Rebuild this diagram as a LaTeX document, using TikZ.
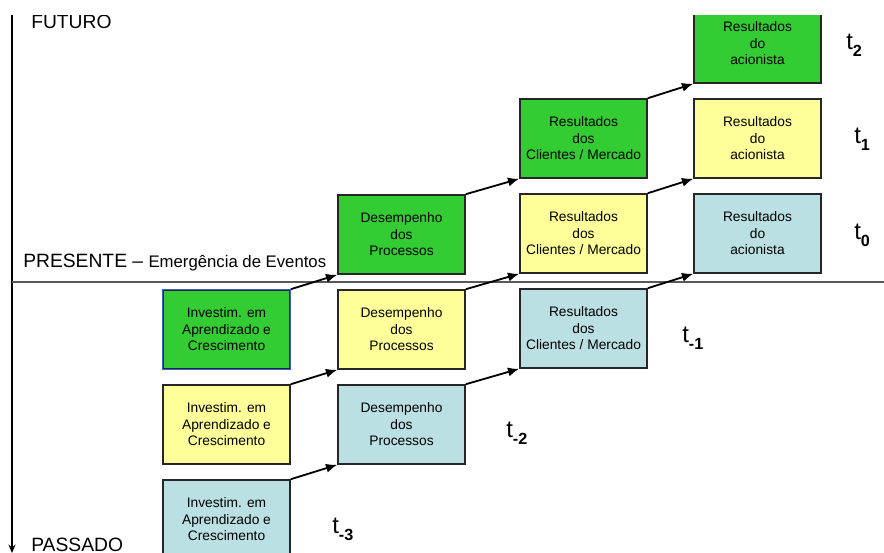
\documentclass[tikz,border=0pt]{standalone}
\usepackage{fontspec}
\setmainfont{Liberation Sans}
\usetikzlibrary{arrows.meta}
\definecolor{verde}{RGB}{51,204,51}
\definecolor{amarelo}{RGB}{255,255,153}
\definecolor{azul}{RGB}{187,224,227}
\definecolor{contorno}{RGB}{60,90,220}
\tikzset{
  caixa/.style={draw=black!85, line width=1.1pt, minimum width=3.175cm, minimum height=1.975cm,
    inner sep=0pt, align=center, font=\fontsize{9.8}{11.7}\selectfont},
  seta/.style={line width=1.3pt, -{Latex[length=8pt,width=6.5pt]}},
  rotulo/.style={anchor=base west, inner sep=0pt, font=\fontsize{13.7}{16}\selectfont},
  tempo/.style={anchor=base west, inner sep=0pt, font=\fontsize{17}{20}\selectfont}
}
\newcommand{\txtInv}{Investim. em\\Aprendizado e\\Crescimento}
\newcommand{\txtDes}{Desempenho\\dos\\Processos}
\newcommand{\txtCli}{Resultados\\dos\\Clientes / Mercado}
\newcommand{\txtAci}{Resultados\\do\\acionista}
\newcommand{\tsub}[1]{t\raisebox{-5pt}{\fontsize{11.5}{12}\selectfont\bfseries #1}}
\begin{document}
\begin{tikzpicture}[x=0.025cm, y=-0.025cm]
    \useasboundingbox (0,0) rectangle (884,553);
    \clip (0,15) rectangle (884,553);

    % Eixo do tempo
    \coordinate (topo) at (12,15);
    \coordinate (base) at (12,553);
    \draw[line width=1.4pt, -{Stealth[length=6pt,width=5pt]}] (topo) -- (base);

    % Linha do presente
    \coordinate (pe) at (12,282);
    \coordinate (pd) at (884,282);
    \draw[black!65, line width=0.9pt] (pe) -- (pd);

    % Rotulos do eixo
    \node[rotulo] (futuro) at (31,28) {FUTURO};
    \node[rotulo] (presente) at (23,267) {PRESENTE -- {\fontsize{11.9}{14}\selectfont Emergência de Eventos}};
    \node[rotulo] (passado) at (31,551) {PASSADO};

    % Caixas: uma cadeia por cor
    \foreach \c/\cor/\dy in {a/verde/0, b/amarelo/95, c/azul/190} {
        \node[caixa, fill=\cor] (inv-\c) at (226.5,329.5+\dy) {\txtInv};
        \node[caixa, fill=\cor] (des-\c) at (401.5,234.5+\dy) {\txtDes};
        \node[caixa, fill=\cor] (cli-\c) at (583.5,138.5+\dy) {\txtCli};
        \node[caixa, fill=\cor] (aci-\c) at (757.5,43.5+\dy) {\txtAci};
        \draw[seta] (inv-\c.north east) -- (des-\c.south west);
        \draw[seta] (des-\c.north east) -- (cli-\c.south west);
        \draw[seta] (cli-\c.north east) -- (aci-\c.south west);
    }
    \draw[contorno, line width=0.9pt] (inv-a.south west) rectangle (inv-a.north east);

    % Instantes
    \node[tempo] (t2) at (846,49) {\tsub{2}};
    \node[tempo] (t1) at (854,143) {\tsub{1}};
    \node[tempo] (t0) at (854,239) {\tsub{0}};
    \node[tempo] (tm1) at (682,342) {\tsub{-1}};
    \node[tempo] (tm2) at (506,437) {\tsub{-2}};
    \node[tempo] (tm3) at (332,533) {\tsub{-3}};
\end{tikzpicture}
\end{document}
